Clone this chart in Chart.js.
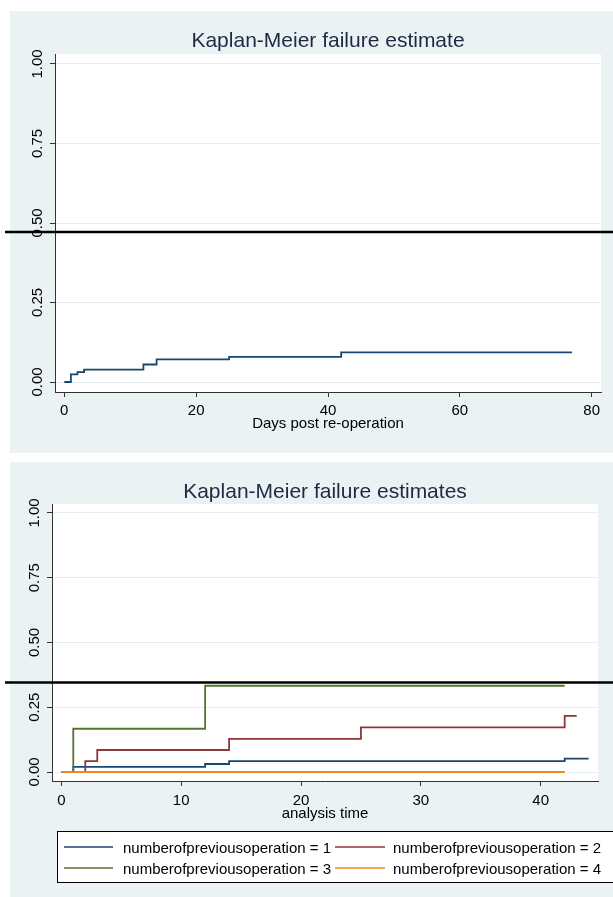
<!DOCTYPE html>
<html>
<head>
<meta charset="utf-8">
<title>Kaplan-Meier failure estimates</title>
<script src="https://cdn.jsdelivr.net/npm/chart.js@4.4.1/dist/chart.umd.min.js"></script>
<style>
    body { margin: 0; background: #ffffff; }
    canvas { position: absolute; left: 0; display: block; }
</style>
</head>
<body>
<canvas id="topChart" width="613" height="457" style="top:0"></canvas>
<canvas id="bottomChart" width="613" height="440" style="top:457px"></canvas>
<script>
// Overall KM failure estimate (top panel)
const topTimes = [0, 1, 2, 3, 12, 14, 25, 42, 77];
const topFailure = [0, 0.024, 0.031, 0.039, 0.055, 0.071, 0.079, 0.093, 0.093];

// Failure estimates by number of previous operations (bottom panel)
const groupLabels = [
    'numberofpreviousoperation = 1',
    'numberofpreviousoperation = 2',
    'numberofpreviousoperation = 3',
    'numberofpreviousoperation = 4'
];
const group1Times = [0, 1, 12, 14, 42, 44];
const group1Failure = [0, 0.020, 0.031, 0.042, 0.052, 0.052];
const group2Times = [0, 2, 3, 14, 25, 42, 43];
const group2Failure = [0, 0.042, 0.085, 0.128, 0.172, 0.217, 0.217];
const group3Times = [0, 1, 12, 42];
const group3Failure = [0, 0.167, 0.333, 0.333];
const group4Times = [0, 42];
const group4Failure = [0, 0];

// Tick labels
const yTicks = [0, 0.25, 0.5, 0.75, 1];
const topXTicks = [0, 20, 40, 60, 80];
const bottomXTicks = [0, 10, 20, 30, 40];

// Black reference lines drawn across each panel (in failure units)
const topMarker = 0.472;
const bottomMarker = 0.346;

const groupColors = ['#1a476f', '#90353b', '#55752f', '#ec8a1e'];
const BG = '#eaf2f3';
const FONT = '"Liberation Sans", Arial, sans-serif';

function toPoints(times, values) {
    return times.map((t, i) => ({ x: t, y: values[i] }));
}

// Stata-like frame: panel background, titles, tick labels, marker line, legend
const stataFrame = {
    id: 'stataFrame',
    beforeDraw(chart, args, opts) {
        const { ctx, chartArea } = chart;
        ctx.save();
        ctx.fillStyle = BG;
        ctx.fillRect(opts.panel[0], opts.panel[1], opts.panel[2], opts.panel[3]);
        ctx.fillStyle = '#ffffff';
        ctx.fillRect(chartArea.left, chartArea.top, chartArea.right - chartArea.left, chartArea.bottom - chartArea.top);
        ctx.restore();
    },
    afterDraw(chart, args, opts) {
        const { ctx, chartArea } = chart;
        const xs = chart.scales.x;
        const ys = chart.scales.y;
        ctx.save();

        // title
        ctx.fillStyle = '#1c2a44';
        ctx.font = opts.titleSize + 'px ' + FONT;
        ctx.textAlign = 'center';
        ctx.textBaseline = 'alphabetic';
        ctx.fillText(opts.title, (chartArea.left + chartArea.right) / 2, opts.titleY);

        // y tick labels, rotated
        ctx.fillStyle = '#000000';
        ctx.font = '15px ' + FONT;
        yTicks.forEach(v => {
            ctx.save();
            ctx.translate(opts.yLabelX, ys.getPixelForValue(v));
            ctx.rotate(-Math.PI / 2);
            ctx.fillText(v.toFixed(2), 0, 0);
            ctx.restore();
        });

        // x tick labels
        opts.xTicks.forEach(v => {
            ctx.fillText(String(v), xs.getPixelForValue(v), opts.xLabelY);
        });

        // x axis title
        ctx.fillText(opts.xTitle, (chartArea.left + chartArea.right) / 2, opts.xTitleY);

        // legend
        if (opts.legend) {
            const lg = opts.legend;
            ctx.fillStyle = '#ffffff';
            ctx.fillRect(lg.box[0], lg.box[1], lg.box[2], lg.box[3]);
            ctx.strokeStyle = '#000000';
            ctx.lineWidth = 1;
            ctx.strokeRect(lg.box[0], lg.box[1], lg.box[2], lg.box[3]);
            ctx.textAlign = 'left';
            groupLabels.forEach((label, i) => {
                const col = i % 2;
                const row = Math.floor(i / 2);
                const y = lg.rows[row];
                ctx.strokeStyle = groupColors[i];
                ctx.lineWidth = 1.6;
                ctx.beginPath();
                ctx.moveTo(lg.lineX[col][0], y);
                ctx.lineTo(lg.lineX[col][1], y);
                ctx.stroke();
                ctx.fillStyle = '#000000';
                ctx.fillText(label, lg.textX[col], y + 5.5);
            });
        }

        // black reference line across the whole panel
        const my = ys.getPixelForValue(opts.marker);
        ctx.strokeStyle = '#000000';
        ctx.lineWidth = 2.5;
        ctx.beginPath();
        ctx.moveTo(5, my);
        ctx.lineTo(chart.width, my);
        ctx.stroke();

        ctx.restore();
    }
};

function axisOptions(xMin, xMax, xTicks, yMin, yMax) {
    return {
        x: {
            type: 'linear',
            min: xMin,
            max: xMax,
            afterBuildTicks: s => { s.ticks = xTicks.map(v => ({ value: v })); },
            afterFit: s => { s.height = 0; },
            ticks: { display: false },
            grid: { drawOnChartArea: false, drawTicks: true, tickLength: 5, tickColor: '#333333' },
            border: { display: true, color: '#333333', width: 1 }
        },
        y: {
            type: 'linear',
            min: yMin,
            max: yMax,
            afterBuildTicks: s => { s.ticks = yTicks.map(v => ({ value: v })); },
            afterFit: s => { s.width = 0; },
            ticks: { display: false },
            grid: { color: '#e4edef', lineWidth: 1, drawTicks: true, tickLength: 5, tickColor: '#333333' },
            border: { display: true, color: '#333333', width: 1 }
        }
    };
}

function lineDataset(label, times, values, color, order) {
    return {
        label: label,
        data: toPoints(times, values),
        borderColor: color,
        borderWidth: 1.8,
        stepped: true,
        pointRadius: 0,
        fill: false,
        order: order
    };
}

// Top chart
new Chart(document.getElementById('topChart').getContext('2d'), {
    type: 'line',
    data: {
        datasets: [lineDataset('Failure', topTimes, topFailure, groupColors[0], 1)]
    },
    options: {
        responsive: false,
        animation: false,
        layout: { padding: { left: 55, right: 12, top: 54, bottom: 65 } },
        scales: axisOptions(-1.41, 81.41, topXTicks, -0.0314, 1.0314),
        plugins: {
            legend: { display: false },
            tooltip: { enabled: false },
            stataFrame: {
                panel: [10, 11, 603, 442],
                title: 'Kaplan-Meier failure estimate',
                titleSize: 21,
                titleY: 47,
                yLabelX: 42,
                xTicks: topXTicks,
                xLabelY: 415,
                xTitle: 'Days post re-operation',
                xTitleY: 428,
                marker: topMarker
            }
        }
    },
    plugins: [stataFrame]
});

// Bottom chart
const groupTimes = [group1Times, group2Times, group3Times, group4Times];
const groupFailure = [group1Failure, group2Failure, group3Failure, group4Failure];

new Chart(document.getElementById('bottomChart').getContext('2d'), {
    type: 'line',
    data: {
        datasets: groupLabels.map((label, i) =>
            lineDataset(label, groupTimes[i], groupFailure[i], groupColors[i], 4 - i))
    },
    options: {
        responsive: false,
        animation: false,
        layout: { padding: { left: 52, right: 15, top: 47, bottom: 116 } },
        scales: axisOptions(-0.776, 44.78, bottomXTicks, -0.0347, 1.0347),
        plugins: {
            legend: { display: false },
            tooltip: { enabled: false },
            stataFrame: {
                panel: [10, 5, 603, 435],
                title: 'Kaplan-Meier failure estimates',
                titleSize: 21,
                titleY: 41,
                yLabelX: 39,
                xTicks: bottomXTicks,
                xLabelY: 348,
                xTitle: 'analysis time',
                xTitleY: 361,
                marker: bottomMarker,
                legend: {
                    box: [57.5, 374.5, 600, 51],
                    rows: [390, 411],
                    lineX: [[64, 113], [335, 385]],
                    textX: [123, 393]
                }
            }
        }
    },
    plugins: [stataFrame]
});
</script>
</body>
</html>
